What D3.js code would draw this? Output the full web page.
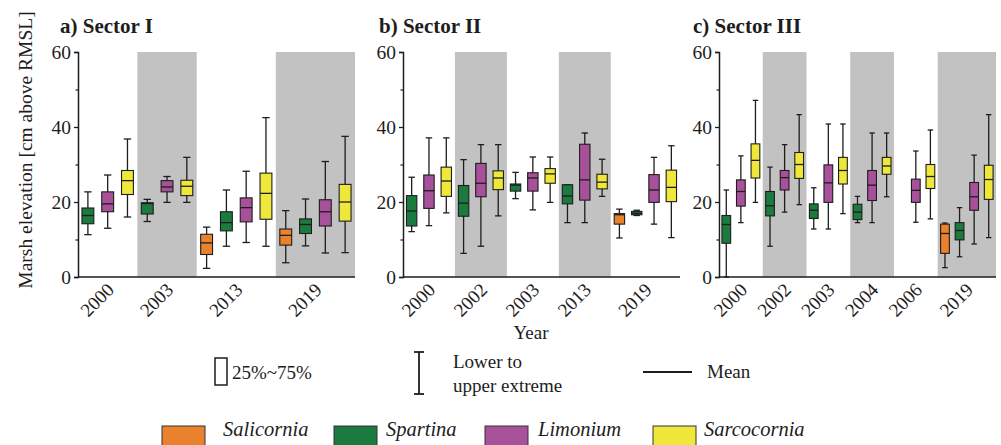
<!DOCTYPE html>
<html>
<head>
<meta charset="utf-8">
<script src="https://cdn.jsdelivr.net/npm/d3@7"></script>
<style>
  html, body { margin: 0; padding: 0; background: #fff; }
  svg { display: block; font-family: "Liberation Serif", "Times New Roman", serif; }
</style>
</head>
<body>
<svg id="chart" width="1001" height="445"></svg>
<script>
// Species order and legend colours
const species = ["Salicornia", "Spartina", "Limonium", "Sarcocornia"];
const speciesColors = ["#e9812d", "#1b7a3d", "#a8519b", "#efe83b"];

// Survey years per sector (x-axis tick labels)
const yearsI = ["2000", "2003", "2013", "2019"];
const yearsII = ["2000", "2002", "2003", "2013", "2019"];
const yearsIII = ["2000", "2002", "2003", "2004", "2006", "2019"];

// Box statistics per sector: [year, species, lower extreme, 25%, mean, 75%, upper extreme] (cm above RMSL)
const sectorI = [
  ["2000", "Spartina", 11.3, 14.2, 16.4, 18.4, 22.7],
  ["2000", "Limonium", 13.0, 17.4, 19.5, 22.7, 27.2],
  ["2000", "Sarcocornia", 16.0, 22.0, 25.7, 28.4, 36.8],
  ["2003", "Spartina", 14.8, 16.8, 19.6, 19.8, 20.7],
  ["2003", "Limonium", 19.9, 22.7, 24.0, 25.7, 26.8],
  ["2003", "Sarcocornia", 19.9, 21.7, 24.2, 25.8, 31.9],
  ["2013", "Salicornia", 2.3, 6.0, 9.1, 11.4, 13.3],
  ["2013", "Spartina", 8.2, 12.3, 14.5, 17.4, 23.2],
  ["2013", "Limonium", 9.2, 14.7, 18.5, 21.1, 28.2],
  ["2013", "Sarcocornia", 8.2, 15.4, 22.3, 27.7, 42.5],
  ["2019", "Salicornia", 3.8, 8.5, 11.1, 12.8, 17.7],
  ["2019", "Spartina", 8.3, 11.6, 14.0, 15.5, 20.8],
  ["2019", "Limonium", 6.4, 13.6, 17.4, 20.6, 30.8],
  ["2019", "Sarcocornia", 6.5, 14.9, 20.0, 24.7, 37.5]
];
const sectorII = [
  ["2000", "Spartina", 12.1, 13.6, 17.6, 21.7, 26.6],
  ["2000", "Limonium", 13.7, 18.3, 23.0, 27.2, 37.1],
  ["2000", "Sarcocornia", 17.1, 21.5, 25.6, 29.3, 37.1],
  ["2002", "Spartina", 6.3, 16.2, 19.7, 24.4, 31.3],
  ["2002", "Limonium", 8.2, 21.4, 25.0, 30.3, 35.3],
  ["2002", "Sarcocornia", 16.3, 23.3, 26.4, 28.3, 35.3],
  ["2003", "Spartina", 20.9, 22.9, 24.5, 24.8, 27.9],
  ["2003", "Limonium", 17.9, 22.9, 26.4, 27.8, 32.0],
  ["2003", "Sarcocornia", 19.9, 25.0, 27.5, 28.9, 32.0],
  ["2013", "Spartina", 14.5, 19.5, 21.6, 24.6, 24.6],
  ["2013", "Limonium", 14.5, 20.5, 25.9, 35.4, 38.4],
  ["2013", "Sarcocornia", 21.5, 23.5, 25.3, 27.4, 31.4],
  ["2019", "Salicornia", 10.4, 14.1, 16.6, 16.9, 18.1],
  ["2019", "Spartina", 16.4, 16.6, 17.0, 17.5, 17.8],
  ["2019", "Limonium", 14.1, 19.9, 23.2, 27.3, 31.9],
  ["2019", "Sarcocornia", 10.5, 20.1, 23.9, 28.5, 35.0]
];
const sectorIII = [
  ["2000", "Spartina", 0.0, 9.0, 14.0, 16.4, 23.2],
  ["2000", "Limonium", 14.5, 18.9, 22.8, 25.9, 32.3],
  ["2000", "Sarcocornia", 19.9, 26.4, 31.1, 35.5, 47.1],
  ["2002", "Spartina", 8.2, 16.3, 19.0, 22.8, 29.3],
  ["2002", "Limonium", 17.3, 23.2, 26.5, 28.4, 35.3],
  ["2002", "Sarcocornia", 19.3, 26.3, 30.0, 33.2, 43.3],
  ["2003", "Spartina", 12.8, 15.6, 17.8, 19.5, 23.8],
  ["2003", "Limonium", 12.8, 19.9, 25.1, 29.9, 40.8],
  ["2003", "Sarcocornia", 16.9, 24.8, 28.4, 31.9, 40.8],
  ["2004", "Spartina", 14.5, 15.3, 17.3, 19.4, 21.5],
  ["2004", "Limonium", 14.5, 20.4, 24.5, 28.4, 38.4],
  ["2004", "Sarcocornia", 21.4, 27.4, 29.6, 31.9, 38.4],
  ["2006", "Limonium", 14.6, 19.9, 23.1, 26.1, 33.6],
  ["2006", "Sarcocornia", 15.5, 23.6, 26.8, 30.0, 39.2],
  ["2019", "Salicornia", 2.5, 6.3, 11.6, 14.1, 14.4],
  ["2019", "Spartina", 5.4, 9.9, 12.4, 14.5, 18.5],
  ["2019", "Limonium", 8.8, 17.8, 21.4, 25.2, 32.5],
  ["2019", "Sarcocornia", 10.5, 20.7, 26.0, 29.8, 43.3]
];

// Y-axis ticks
const yMajorTicks = [0, 20, 40, 60];
const yMinorTicks = [10, 30, 50];

// Legend texts
const legendBoxLabel = "25%~75%";
const legendWhiskerLabel = ["Lower to", "upper extreme"];
const legendMeanLabel = "Mean";

// ---------------------------------------------------------------
const svg = d3.select("#chart");
const ink = "#1d1d1d";
const bandFill = "#c2c2c2";
const yTop = 52, yBottom = 277;

const y = d3.scaleLinear().domain([0, 60]).range([yBottom, yTop]);
const color = d3.scaleOrdinal().domain(species).range(speciesColors);

const panels = [
  { title: "a) Sector I", years: yearsI, rows: sectorI, x0: 78, x1: 355, titleX: 60 },
  { title: "b) Sector II", years: yearsII, rows: sectorII, x0: 403, x1: 680, titleX: 379 },
  { title: "c) Sector III", years: yearsIII, rows: sectorIII, x0: 719, x1: 996, titleX: 693 }
];

panels.forEach(p => {
  const g = svg.append("g");

  // one slot per species; Salicornia only takes a slot in years where it occurs
  const slotSpecies = yr => p.rows.some(r => r[0] === yr && r[1] === "Salicornia") ? species : species.slice(1);
  const slots = p.years.flatMap(yr => slotSpecies(yr).map(s => yr + "|" + s));

  const x = d3.scaleBand().domain(slots).range([p.x0, p.x1]).paddingInner(0.4).paddingOuter(0.2);
  const step = x.step(), bw = x.bandwidth();

  const groups = p.years.map((yr, i) => {
    const sl = slotSpecies(yr).map(s => yr + "|" + s);
    const left = x(sl[0]) - step * 0.2;
    const right = x(sl[sl.length - 1]) + bw + step * 0.2;
    return { yr, i, left, right, center: (left + right) / 2 };
  });

  // alternate shading behind every second survey year
  g.selectAll("rect.band")
    .data(groups.filter(d => d.i % 2 === 1))
    .join("rect")
    .attr("class", "band")
    .attr("x", d => d.left)
    .attr("y", yTop)
    .attr("width", d => d.right - d.left)
    .attr("height", yBottom - yTop)
    .attr("fill", bandFill);

  // boxes
  const boxes = g.selectAll("g.box")
    .data(p.rows)
    .join("g")
    .attr("class", "box")
    .attr("transform", d => `translate(${x(d[0] + "|" + d[1]) + bw / 2},0)`);

  const capW = bw * 0.62;
  boxes.append("line")
    .attr("x1", 0).attr("x2", 0)
    .attr("y1", d => y(d[2])).attr("y2", d => y(d[6]))
    .attr("stroke", ink).attr("stroke-width", 1.3);
  boxes.append("line")
    .attr("x1", -capW / 2).attr("x2", capW / 2)
    .attr("y1", d => y(d[2])).attr("y2", d => y(d[2]))
    .attr("stroke", ink).attr("stroke-width", 1.3);
  boxes.append("line")
    .attr("x1", -capW / 2).attr("x2", capW / 2)
    .attr("y1", d => y(d[6])).attr("y2", d => y(d[6]))
    .attr("stroke", ink).attr("stroke-width", 1.3);
  boxes.append("rect")
    .attr("x", -bw / 2)
    .attr("width", bw)
    .attr("y", d => y(d[5]))
    .attr("height", d => Math.max(1, y(d[3]) - y(d[5])))
    .attr("fill", d => color(d[1]))
    .attr("stroke", ink).attr("stroke-width", 1.1);
  boxes.append("line")
    .attr("x1", -bw / 2).attr("x2", bw / 2)
    .attr("y1", d => y(d[4])).attr("y2", d => y(d[4]))
    .attr("stroke", ink).attr("stroke-width", 1.3);

  // y axis
  const yAxis = g.append("g")
    .attr("transform", `translate(${p.x0},0)`)
    .call(d3.axisLeft(y).tickValues(yMajorTicks).tickSize(4).tickPadding(3).tickFormat(d3.format("d")));
  yAxis.select(".domain").attr("stroke", ink).attr("stroke-width", 1.5);
  yAxis.selectAll(".tick line").attr("stroke", ink).attr("stroke-width", 1.3);
  yAxis.selectAll(".tick text")
    .attr("font-family", "Liberation Serif, serif")
    .attr("font-size", 19.5).attr("fill", ink);
  g.append("g")
    .attr("transform", `translate(${p.x0},0)`)
    .call(d3.axisLeft(y).tickValues(yMinorTicks).tickSize(2.5).tickFormat(""))
    .call(a => a.select(".domain").remove())
    .selectAll(".tick line").attr("stroke", ink).attr("stroke-width", 1.2);

  // x axis with survey years at group centres
  const xYear = d3.scaleOrdinal().domain(groups.map(d => d.yr)).range(groups.map(d => d.center));
  const xAxis = g.append("g")
    .attr("transform", `translate(0,${yBottom})`)
    .call(d3.axisBottom(xYear).tickSize(0).tickSizeOuter(0));
  xAxis.select(".domain")
    .attr("d", `M${p.x0},0H${p.x1}`)
    .attr("stroke", ink).attr("stroke-width", 1.5);
  xAxis.selectAll(".tick text")
    .attr("x", null).attr("y", null).attr("dy", null)
    .attr("text-anchor", "end")
    .attr("transform", "translate(7,14) rotate(-45)")
    .attr("font-family", "Liberation Serif, serif")
    .attr("font-size", 19).attr("fill", ink);

  // panel title
  g.append("text")
    .attr("x", p.titleX).attr("y", 33)
    .attr("font-weight", "bold").attr("font-size", 21)
    .attr("fill", ink)
    .text(p.title);
});

// axis titles
svg.append("text")
  .attr("transform", "translate(32,150) rotate(-90)")
  .attr("text-anchor", "middle")
  .attr("font-size", 19.5).attr("fill", ink)
  .text("Marsh elevation [cm above RMSL]");
svg.append("text")
  .attr("x", 531).attr("y", 339)
  .attr("text-anchor", "middle")
  .attr("font-size", 19).attr("fill", ink)
  .text("Year");

// legend: box, whisker and mean symbols
const leg = svg.append("g");
leg.append("rect")
  .attr("x", 215).attr("y", 358).attr("width", 12).attr("height", 27)
  .attr("fill", "#fff").attr("stroke", ink).attr("stroke-width", 1.5);
leg.append("text").attr("x", 232).attr("y", 379)
  .attr("font-size", 19).attr("fill", ink).text(legendBoxLabel);

leg.append("line").attr("x1", 419).attr("x2", 419).attr("y1", 352).attr("y2", 394)
  .attr("stroke", ink).attr("stroke-width", 1.8);
[352, 394].forEach(v => leg.append("line")
  .attr("x1", 414).attr("x2", 424).attr("y1", v).attr("y2", v)
  .attr("stroke", ink).attr("stroke-width", 1.8));
leg.append("text").attr("x", 453).attr("y", 368)
  .attr("font-size", 19).attr("fill", ink).text(legendWhiskerLabel[0]);
leg.append("text").attr("x", 453).attr("y", 392)
  .attr("font-size", 19).attr("fill", ink).text(legendWhiskerLabel[1]);

leg.append("line").attr("x1", 643).attr("x2", 692).attr("y1", 372).attr("y2", 372)
  .attr("stroke", ink).attr("stroke-width", 2);
leg.append("text").attr("x", 707).attr("y", 378)
  .attr("font-size", 19).attr("fill", ink).text(legendMeanLabel);

// legend: species swatches (swatch and label left edges per entry)
const swatchX = d3.scaleOrdinal().domain(species).range([162, 334, 485, 653]);
const labelX = d3.scaleOrdinal().domain(species).range([223, 386, 538, 704]);
const sw = svg.append("g").selectAll("g")
  .data(species)
  .join("g");
sw.append("rect")
  .attr("x", d => swatchX(d)).attr("y", 426)
  .attr("width", 43).attr("height", 30)
  .attr("fill", d => color(d))
  .attr("stroke", "#333").attr("stroke-width", 1);
sw.append("text")
  .attr("x", d => labelX(d)).attr("y", 436)
  .attr("font-style", "italic").attr("font-size", 20.5)
  .attr("fill", ink)
  .text(d => d);
</script>
</body>
</html>
